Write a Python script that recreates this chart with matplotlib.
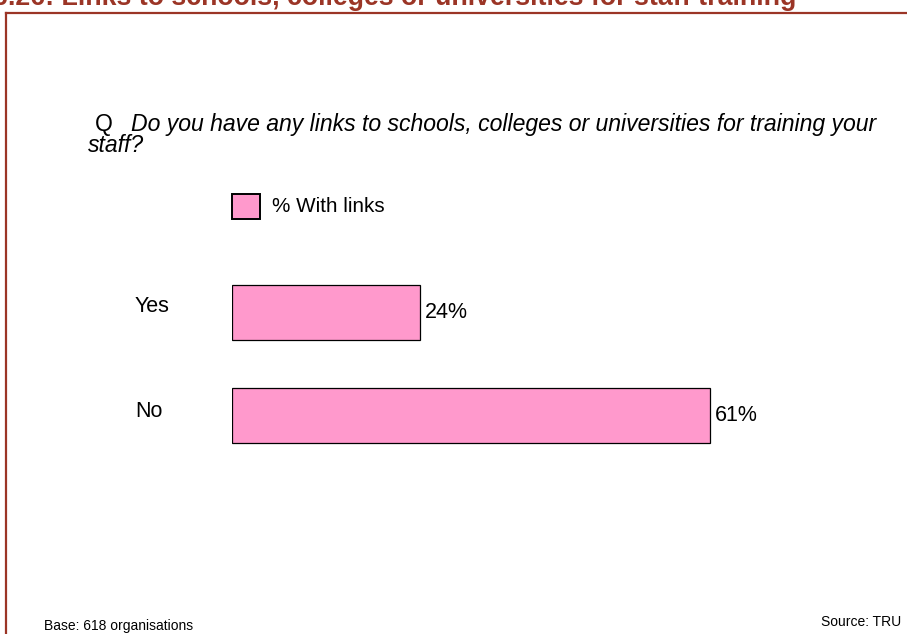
import matplotlib.pyplot as plt
from matplotlib.patches import Rectangle
from matplotlib.lines import Line2D

plt.rcParams['font.family'] = ['Liberation Sans', 'DejaVu Sans']

categories = ["Yes", "No"]
values = [24, 61]
series_name = "% With links"
title = "6.26: Links to schools, colleges or universities for staff training"
question_mark = "Q"
question = ["Do you have any links to schools, colleges or universities for training your",
            "staff?"]
base_note = "Base: 618 organisations"
source_note = "Source: TRU"

W, H = 907, 634
fig = plt.figure(figsize=(W / 100, H / 100), dpi=100)

def fx(px):
    return px / W

def fy(py):
    return 1 - py / H

red = '#9b3526'

# frame lines down the left side and across the top
fig.add_artist(Line2D([fx(6), fx(907)], [fy(13), fy(13)], color=red, lw=1.6))
fig.add_artist(Line2D([fx(6), fx(6)], [fy(13), fy(634)], color=red, lw=1.6))

fig.text(fx(-7), fy(5), title, color=red, fontsize=19.3, fontweight='bold',
         ha='left', va='baseline')

fig.text(fx(95), fy(131), question_mark, fontsize=16.6, ha='left', va='baseline')
fig.text(fx(131), fy(131), question[0], fontsize=16.6, style='italic',
         ha='left', va='baseline')
fig.text(fx(88), fy(152), question[1], fontsize=16.6, style='italic',
         ha='left', va='baseline')

# bar area: zero at x=232, 80% at x=859; bar centres at y=312.5 and 415.5
ax = fig.add_axes([fx(232), fy(470), fx(859 - 232), (470 - 260) / H])
ax.set_xlim(0, 80)
ax.set_ylim(1.53, -0.51)
pos = [0, 1]
ax.barh(pos, values, height=0.534, color='#ff99cc', edgecolor='black', lw=0.9)
for p, v in zip(pos, values):
    ax.text(v + 0.6, p, f"{v}%", fontsize=15.5, va='center', ha='left')

# category names sit a little above their bars
label_shift = [-0.063, -0.034]
for p, name, d in zip(pos, categories, label_shift):
    ax.text(-0.155, p + d, name, fontsize=15.5, va='center', ha='left',
            transform=ax.get_yaxis_transform())
ax.set_xticks([])
ax.set_yticks([])
for s in ax.spines.values():
    s.set_visible(False)
ax.patch.set_alpha(0)

# legend
fig.add_artist(Rectangle((fx(232), fy(219)), fx(28), 25 / H, transform=fig.transFigure,
                         facecolor='#ff99cc', edgecolor='black', lw=1.4))
fig.text(fx(272), fy(206), series_name, fontsize=14.9, va='center', ha='left')

fig.text(fx(44), fy(626), base_note, fontsize=10, va='center', ha='left')
fig.text(fx(901), fy(622), source_note, fontsize=10, va='center', ha='right')

fig.savefig('out.png', dpi=100)
